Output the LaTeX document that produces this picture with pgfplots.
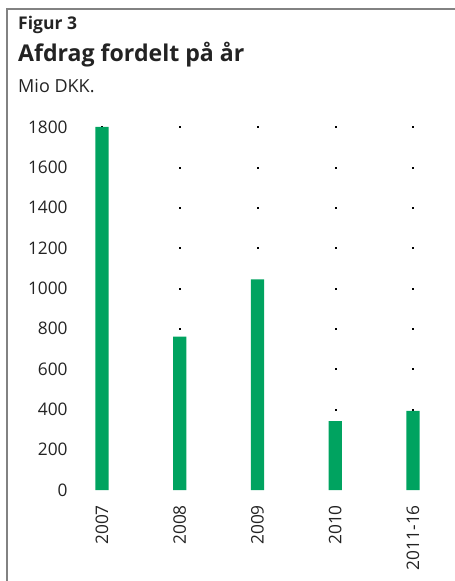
\documentclass[border=0pt]{standalone}
\usepackage{pgfplots}
\pgfplotsset{compat=1.18}
\usepackage{fontspec}
\setmainfont{Open Sans}
\definecolor{barg}{RGB}{0,163,96}
\definecolor{txt}{RGB}{35,35,35}
\definecolor{framec}{RGB}{130,130,130}
\definecolor{dotc}{RGB}{110,110,110}
\begin{document}
\begin{tikzpicture}[x=1pt,y=1pt]
\useasboundingbox (0,0) rectangle (455,581);
\draw[framec, line width=2pt] (7,0) -- (7,571.5) -- (455,571.5);
\node[anchor=base west, inner sep=0, text=txt, font=\bfseries\fontsize{17.5}{20}\selectfont] at (18,551) {Figur 3};
\node[anchor=base west, inner sep=0, text=txt, font=\bfseries\fontsize{23.1}{27}\selectfont] at (18,519) {Afdrag fordelt på år};
\node[anchor=base west, inner sep=0, text=txt, font=\fontsize{18}{21}\selectfont] at (18,488) {Mio DKK.};
\begin{axis}[
  at={(74.8pt,91pt)}, anchor=south west,
  scale only axis, width=377.1pt, height=363pt,
  xmin=-0.35, xmax=4.5, ymin=0, ymax=1800,
  clip=false, clip mode=individual,
  axis line style={draw=none},
  tick style={draw=none},
  major tick length=0pt,
  ytick={0,200,...,1800},
  xtick={0,1,2,3,4},
  xticklabels={2007,2008,2009,2010,2011-16},
  /pgf/number format/assume math mode=true,
  /pgf/number format/set thousands separator={},
  tick label style={font=\fontsize{17.3}{20}\selectfont, text=txt},
  yticklabel style={inner sep=0pt, anchor=east, xshift=-7pt},
  xticklabel shift=15pt,
  xticklabel style={rotate=90, anchor=east, inner sep=0pt},
]
\addplot[only marks, mark=square*, mark size=0.55pt, mark options={fill=dotc, draw=none}] coordinates {
(0,1800)
(1,800)(1,1000)(1,1200)(1,1400)(1,1600)(1,1800)
(2,1200)(2,1400)(2,1600)(2,1800)
(3,400)(3,600)(3,800)(3,1000)(3,1200)(3,1400)(3,1600)(3,1800)
(4,400)(4,600)(4,800)(4,1000)(4,1200)(4,1400)(4,1600)(4,1800)
};
\addplot[ybar, bar width=13.3pt, fill=barg, draw=none] coordinates {(0,1800)(1,760)(2,1045)(3,342)(4,392)};
\end{axis}
\end{tikzpicture}
\end{document}
